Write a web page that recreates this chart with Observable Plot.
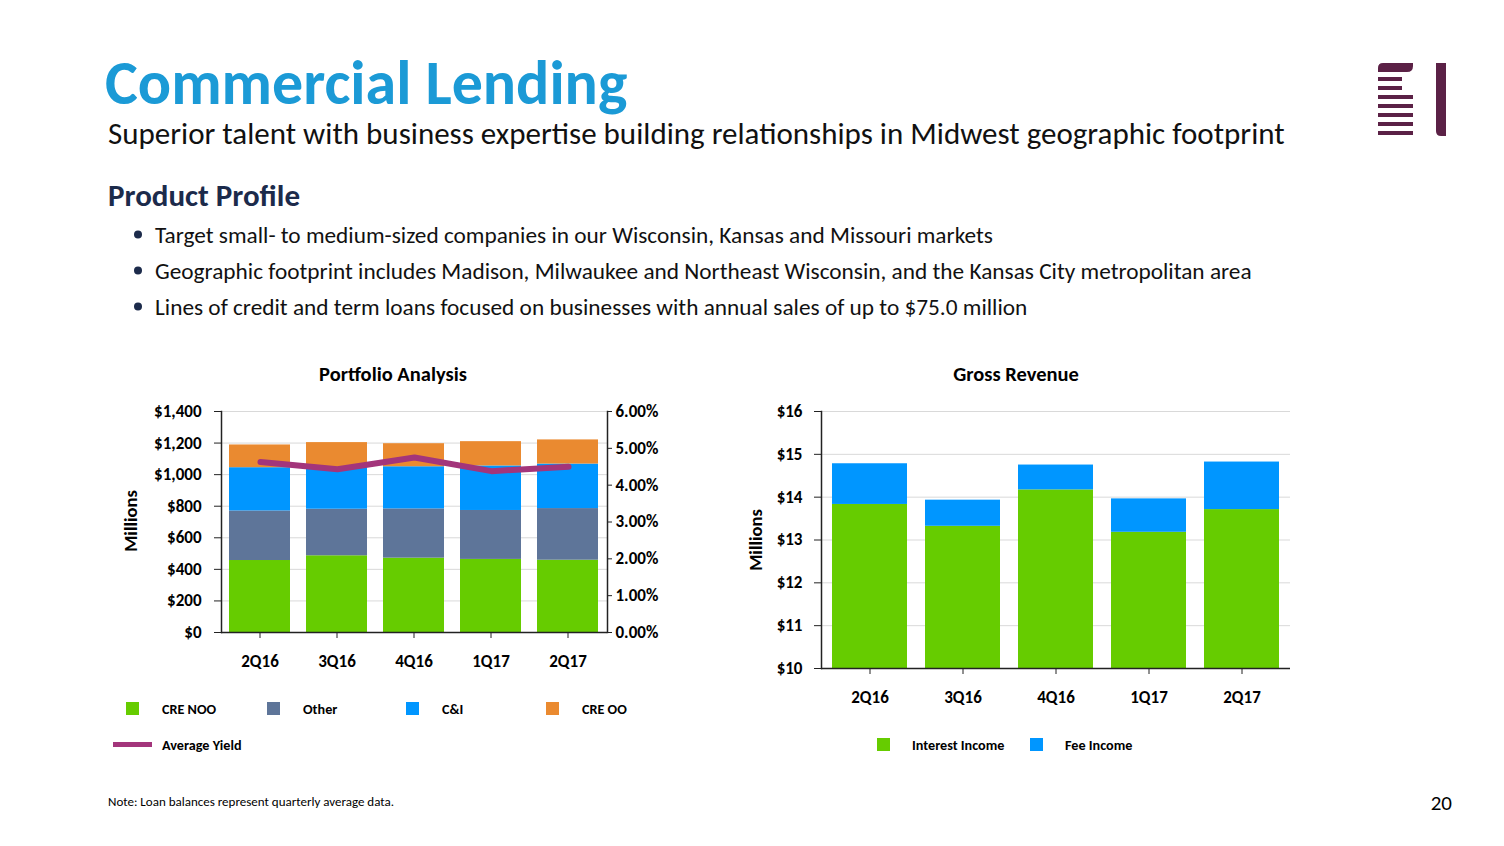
<!DOCTYPE html>
<html>
<head>
<meta charset="utf-8">
<script src="https://cdn.jsdelivr.net/npm/d3@7"></script>
<script src="https://cdn.jsdelivr.net/npm/@observablehq/plot@0.6"></script>
<style>
  html, body { margin: 0; padding: 0; background: #fff; }
  #page { position: relative; width: 1504px; height: 846px; overflow: hidden; font-family: Carlito, Lato, "Open Sans", sans-serif; }
  #page > svg.abs, #page > div.abs { position: absolute; }
</style>
</head>
<body>
<div id="page"></div>
<script>
// ---------- data ----------
const quarters = ["2Q16", "3Q16", "4Q16", "1Q17", "2Q17"];
const portfolioSeries = ["CRE NOO", "Other", "C&I", "CRE OO"];
const creNoo = [456, 486, 471, 463, 458];
const otherLoans = [314, 295, 312, 310, 327];
const cAndI = [274, 264, 267, 282, 282];
const creOo = [144, 158, 146, 154, 153];
const averageYield = [4.63, 4.43, 4.75, 4.38, 4.50];
const portfolioTicks = [0, 200, 400, 600, 800, 1000, 1200, 1400];
const yieldTicks = [0, 1, 2, 3, 4, 5, 6];

const revenueSeries = ["Interest Income", "Fee Income"];
const interestIncome = [13.83, 13.32, 14.17, 13.18, 13.71];
const feeIncome = [0.95, 0.61, 0.58, 0.78, 1.11];
const revenueTicks = [10, 11, 12, 13, 14, 15, 16];

const bullets = [
  "Target small- to medium-sized companies in our Wisconsin, Kansas and Missouri markets",
  "Geographic footprint includes Madison, Milwaukee and Northeast Wisconsin, and the Kansas City metropolitan area",
  "Lines of credit and term loans focused on businesses with annual sales of up to $75.0 million"
];

// ---------- styles ----------
const FONT = 'Carlito, Lato, "Open Sans", sans-serif';
const portfolioColors = ["#66cc00", "#5e7599", "#0096ff", "#ea8a30"];
const yieldColor = "#a3357b";
const revenueColors = ["#66cc00", "#0096ff"];
const gridColor = "#d9d9d9";
const axisColor = "#222";

const page = document.getElementById("page");
const NS = "http://www.w3.org/2000/svg";

function place(el, left, top) {
  el.classList.add("abs");
  el.style.left = left + "px";
  el.style.top = top + "px";
  page.appendChild(el);
}

const plotStyle = {fontFamily: FONT, fontSize: "17px", fontWeight: "bold", color: "#000", background: "transparent", overflow: "visible"};

// ---------- Portfolio Analysis (bars) ----------
const portfolioRows = quarters.flatMap((q, i) => [
  {q, s: "CRE NOO", v: creNoo[i]},
  {q, s: "Other", v: otherLoans[i]},
  {q, s: "C&I", v: cAndI[i]},
  {q, s: "CRE OO", v: creOo[i]}
]);
const L = {width: 570, height: 285, marginLeft: 111, marginRight: 73, marginTop: 16, marginBottom: 48};
const portfolio = Plot.plot({
  ...L,
  style: plotStyle,
  x: {domain: quarters, paddingInner: 0.205, paddingOuter: 0.085},
  y: {domain: [0, 1400]},
  color: {domain: portfolioSeries, range: portfolioColors},
  marks: [
    Plot.gridY(portfolioTicks, {stroke: gridColor, strokeOpacity: 1}),
    Plot.barY(portfolioRows, {x: "q", y: "v", fill: "s"}),
    Plot.axisY({ticks: portfolioTicks, tickFormat: d => "$" + d3.format(",")(d), tickSize: 7, tickPadding: 13, label: null, stroke: axisColor}),
    Plot.axisX({tickSize: 6, tickPadding: 16, label: null, stroke: axisColor}),
    Plot.ruleY([0], {stroke: axisColor, strokeWidth: 1.5}),
    Plot.frame({anchor: "left", stroke: axisColor, strokeWidth: 1.5})
  ]
});
place(portfolio, 110, 395);

// ---------- Portfolio Analysis (yield line, right axis) ----------
const yieldRows = quarters.map((q, i) => ({q, y: averageYield[i]}));
const yieldPlot = Plot.plot({
  ...L,
  style: plotStyle,
  x: {type: "point", domain: quarters, padding: 0.4825, axis: null},
  y: {domain: [0, 6]},
  marks: [
    Plot.line(yieldRows, {x: "q", y: "y", stroke: yieldColor, strokeWidth: 6}),
    Plot.axisY({anchor: "right", ticks: yieldTicks, tickFormat: d => d.toFixed(2) + "%", tickSize: 4, tickPadding: 4, label: null, stroke: axisColor}),
    Plot.frame({anchor: "right", stroke: axisColor, strokeWidth: 1.5})
  ]
});
place(yieldPlot, 110, 395);

// ---------- Gross Revenue ----------
const revenueRows = quarters.flatMap((q, i) => [
  {q, s: "Interest Income", v: interestIncome[i]},
  {q, s: "Fee Income", v: feeIncome[i]}
]);
const revenue = Plot.plot({
  width: 560, height: 323, marginLeft: 81, marginRight: 10, marginTop: 16, marginBottom: 50,
  style: plotStyle,
  x: {domain: quarters, paddingInner: 0.198, paddingOuter: 0.1},
  y: {domain: [10, 16]},
  color: {domain: revenueSeries, range: revenueColors},
  marks: [
    Plot.gridY(revenueTicks, {stroke: gridColor, strokeOpacity: 1}),
    Plot.barY(revenueRows, {x: "q", y: "v", fill: "s", clip: true}),
    Plot.axisY({ticks: revenueTicks, tickFormat: d => "$" + d, tickSize: 7, tickPadding: 12, label: null, stroke: axisColor}),
    Plot.axisX({tickSize: 6, tickPadding: 16, label: null, stroke: axisColor}),
    Plot.ruleY([10], {stroke: axisColor, strokeWidth: 1.5}),
    Plot.frame({anchor: "left", stroke: axisColor, strokeWidth: 1.5})
  ]
});
place(revenue, 740, 395);

// ---------- page text, legends, logo ----------
const svg = document.createElementNS(NS, "svg");
svg.setAttribute("width", 1504);
svg.setAttribute("height", 846);
svg.style.pointerEvents = "none";
svg.style.fontFamily = FONT;
place(svg, 0, 0);

function text(str, x, y, opts = {}) {
  const t = document.createElementNS(NS, "text");
  t.textContent = str;
  t.setAttribute("x", x);
  t.setAttribute("y", y);
  t.setAttribute("font-size", opts.size || 15);
  t.setAttribute("font-weight", opts.weight || "normal");
  t.setAttribute("fill", opts.fill || "#000");
  if (opts.anchor) t.setAttribute("text-anchor", opts.anchor);
  if (opts.transform) t.setAttribute("transform", opts.transform);
  svg.appendChild(t);
  return t;
}
function rect(x, y, w, h, fill) {
  const r = document.createElementNS(NS, "rect");
  r.setAttribute("x", x); r.setAttribute("y", y);
  r.setAttribute("width", w); r.setAttribute("height", h);
  r.setAttribute("fill", fill);
  svg.appendChild(r);
}

text("Commercial Lending", 105, 104, {size: 62, weight: "bold", fill: "#1b9ad6"});
text("Superior talent with business expertise building relationships in Midwest geographic footprint", 108, 144, {size: 31, fill: "#111"});
text("Product Profile", 108, 206, {size: 31, weight: "bold", fill: "#1c2b4b"});
bullets.forEach((b, i) => {
  const y = 243 + i * 36;
  const c = document.createElementNS(NS, "circle");
  c.setAttribute("cx", 138); c.setAttribute("cy", y - 8.5); c.setAttribute("r", 4);
  c.setAttribute("fill", "#1c2b4b");
  svg.appendChild(c);
  text(b, 155, y, {size: 23.3, fill: "#111"});
});

text("Portfolio Analysis", 393, 381, {size: 20.5, weight: "bold", anchor: "middle"});
text("Gross Revenue", 1016, 381, {size: 20.5, weight: "bold", anchor: "middle"});
text("Millions", 137, 521, {size: 18.5, weight: "bold", anchor: "middle", transform: "rotate(-90 137 521)"});
text("Millions", 762, 540, {size: 18.5, weight: "bold", anchor: "middle", transform: "rotate(-90 762 540)"});

// portfolio legend
const legX = [126, 267, 406, 546];
portfolioSeries.forEach((s, i) => {
  rect(legX[i], 702, 13, 13, portfolioColors[i]);
  text(s, legX[i] + 36, 714, {size: 14.2, weight: "bold"});
});
rect(113, 742, 39, 5, yieldColor);
text("Average Yield", 162, 750, {size: 14.2, weight: "bold"});

// revenue legend
const revLegX = [877, 1030];
revenueSeries.forEach((s, i) => {
  rect(revLegX[i], 738, 13, 13, revenueColors[i]);
  text(s, revLegX[i] + 35, 750, {size: 14.2, weight: "bold"});
});

text("Note: Loan balances represent quarterly average data.", 108, 806, {size: 13});
text("20", 1452, 810, {size: 21, anchor: "end"});

// logo
const logoColor = "#5b2146";
const logo = document.createElementNS(NS, "g");
logo.setAttribute("fill", logoColor);
logo.innerHTML = `
  <path d="M1378,72 L1378,68 Q1378,63 1383,63 L1413,63 L1413,66 Q1413,72 1407,72 Z"/>
  <rect x="1378" y="77" width="24" height="4"/>
  <rect x="1378" y="86" width="24" height="4"/>
  <rect x="1378" y="95" width="35" height="4"/>
  <rect x="1378" y="104" width="35" height="4"/>
  <rect x="1378" y="113" width="35" height="4"/>
  <rect x="1378" y="122" width="35" height="4"/>
  <rect x="1378" y="131" width="35" height="4"/>
  <path d="M1436,63 L1446,63 L1446,136 L1441,136 Q1436,136 1436,131 Z"/>
`;
svg.appendChild(logo);
</script>
</body>
</html>
